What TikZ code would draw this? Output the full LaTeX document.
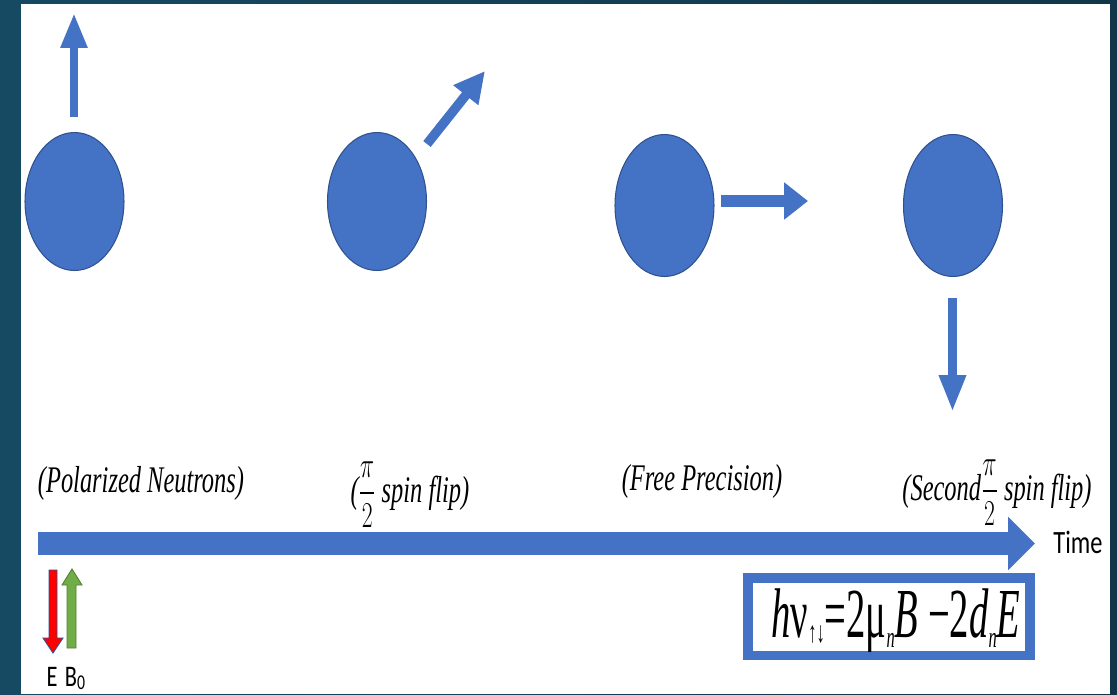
\documentclass[tikz,border=0pt]{standalone}
\usepackage{amsmath}
\usepackage{fontspec}
\setmainfont{Carlito}
\newfontfamily\eqfont{Liberation Serif}
\usetikzlibrary{arrows.meta, shapes.geometric}
\definecolor{nblue}{RGB}{68,114,196}
\definecolor{nedge}{RGB}{47,82,143}
\definecolor{slideL}{RGB}{22,74,98}
\definecolor{slideR}{RGB}{17,54,74}
\definecolor{egreen}{RGB}{112,173,71}
\definecolor{egreenD}{RGB}{80,126,50}
\newcommand{\narrow}[1]{\scalebox{0.65}[1]{#1}}
\newcommand{\slim}[1]{\scalebox{0.75}[1]{#1}}

\begin{document}
\begin{tikzpicture}[
    x=0.02cm, y=-0.02cm,
    neutron/.style={ellipse, draw=nedge, fill=nblue, line width=0.6pt,
                    minimum width=1.98cm, minimum height=2.76cm, inner sep=0pt},
    spin/.style={draw=nblue, line width=4.7pt, -{Triangle[width=14.2pt, length=19.8pt]}},
    lbl/.style={font=\eqfont\fontsize{21.4}{25}\selectfont\itshape, inner sep=0pt, anchor=base},
    small/.style={font=\fontsize{17}{19}\selectfont, inner sep=0pt, anchor=base},
  ]
  \useasboundingbox (0,0) rectangle (1117,694);
  \shade[left color=slideL, right color=slideR] (0,0) rectangle (1117,694);
  \fill[white] (21,4) rectangle (1110,694);

  % neutrons
  \node[neutron] (n1) at (74.5,201.5) {};
  \node[neutron] (n2) at (377,201.5) {};
  \node[neutron, minimum height=2.84cm] (n3) at (664.5,205.5) {};
  \node[neutron, minimum height=2.84cm] (n4) at (953,205.5) {};

  % spins
  \coordinate (s1a) at (74,117);   \coordinate (s1b) at (74,13);
  \coordinate (s2a) at (427,144);  \coordinate (s2b) at (485,71);
  \coordinate (s3a) at (721,201);  \coordinate (s3b) at (808,201);
  \coordinate (s4a) at (952.5,298);\coordinate (s4b) at (952.5,412);
  \draw[spin] (s1a) -- (s1b);
  \draw[spin, line width=5.4pt, -{Triangle[width=17pt, length=17.6pt]}] (s2a) -- (s2b);
  \draw[spin, line width=7.2pt, -{Triangle[width=20.4pt, length=13.6pt]}] (s3a) -- (s3b);
  \draw[spin, line width=5.1pt, -{Triangle[width=14.2pt, length=21pt]}] (s4a) -- (s4b);

  % stages
  \node[lbl] (pol)   at (141,492) {\narrow{(Polarized Neutrons)}};
  \node[lbl] (flip1) at (410,502) {\narrow{($\dfrac{\pi}{2}$ spin flip)}};
  \node[lbl] (free)  at (702,490) {\narrow{(Free Precision)}};
  \node[lbl] (flip2) at (997,500) {\narrow{(Second$\dfrac{\pi}{2}$ spin flip)}};

  % time axis
  \coordinate (t0) at (38,543.5);
  \coordinate (t1) at (1035,543.5);
  \draw[draw=nblue, line width=13pt, -{Triangle[width=29.5pt, length=15.3pt]}] (t0) -- (t1);
  \node[small, font=\fontsize{18.5}{21}\selectfont] (time) at (1078,553) {\slim{Time}};

  % fields
  \draw[draw=nedge, fill=red, line width=0.5pt]
    (49,570) -- (57,570) -- (57,638) -- (63,638) -- (53,653) -- (43,638) -- (49,638) -- cycle;
  \draw[draw=egreenD, fill=egreen, line width=0.5pt]
    (67,648) -- (76,648) -- (76,585) -- (82,585) -- (72,569) -- (62,585) -- (67,585) -- cycle;
  \node[small] (lE) at (52,686) {\slim{E}};
  \node[small] (lB) at (75,686) {\slim{B\raisebox{-2pt}{\fontsize{12}{12}\selectfont 0}}};

  % resonance condition
  \node[draw=nblue, line width=5.4pt, fill=white, minimum width=5.65cm,
        minimum height=1.55cm, inner sep=0pt] (eqbox) at (889,616.5) {};
  \node[anchor=base, inner sep=0pt, font=\eqfont\fontsize{40}{46}\selectfont] (eq) at (896,637)
    {\scalebox{0.55}[1]{\textit{h}ν\raisebox{-3pt}{\fontsize{17}{17}\selectfont↑↓}=2μ\raisebox{-6pt}{\fontsize{17}{17}\selectfont\textit{n}}\textit{B} −2\textit{d}\raisebox{-6pt}{\fontsize{17}{17}\selectfont\textit{n}}\textit{E}}};
\end{tikzpicture}
\end{document}
